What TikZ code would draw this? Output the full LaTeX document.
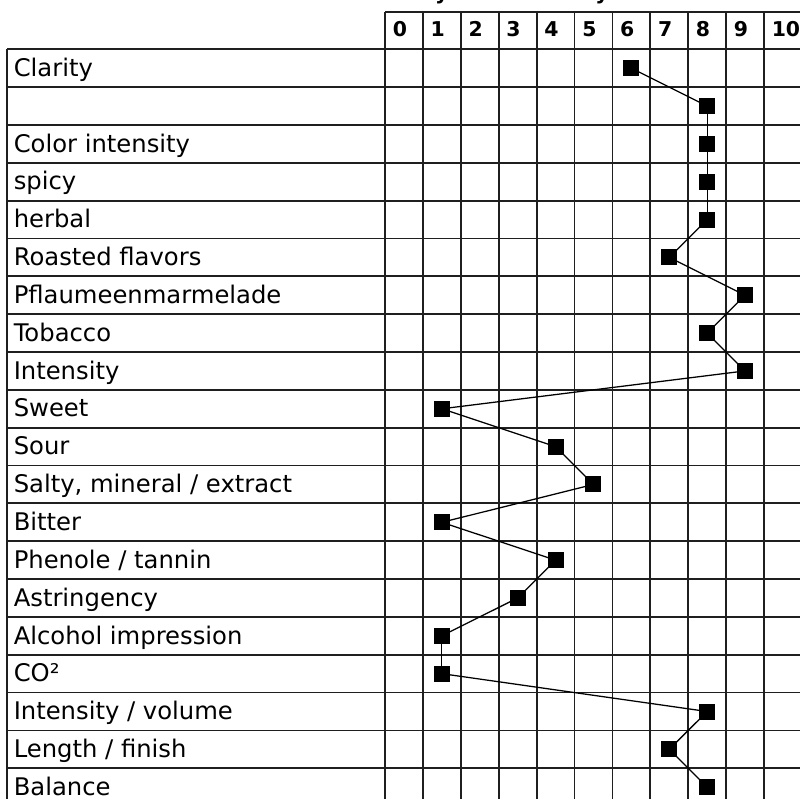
\documentclass[tikz,border=0pt]{standalone}
\usepackage{fontspec}
\setmainfont{DejaVu Sans}
\newcommand{\colx}[1]{385+37.9*(#1)}
\newcommand{\rowy}[1]{49.3+37.84*(#1)}
\newcommand{\tblrow}[3]{%
  \node[lbl] (lab#1) at (13.5,{\rowy{#1-0.5}+8.2}) {#2};
  \node[marker] (m#1) at ({\colx{#3+0.5}},{\rowy{#1-0.5}}) {};
}
\begin{document}
\begin{tikzpicture}[x=0.75pt,y=-0.75pt,
  gridline/.style={line width=1.35pt,draw=black!88},
  lbl/.style={anchor=base west,inner sep=0pt,font=\fontsize{18.2pt}{21pt}\selectfont},
  hdr/.style={anchor=base west,inner sep=0pt,font=\bfseries\fontsize{15.3pt}{18pt}\selectfont},
  titlestyle/.style={anchor=base west,inner sep=0pt,font=\bfseries\fontsize{15.5pt}{18pt}\selectfont},
  marker/.style={fill=black,draw=none,inner sep=0pt,minimum size=12pt},
  link/.style={line width=0.95pt,draw=black}]
\useasboundingbox (0,0) rectangle (800,799);
\fill[white] (0,0) rectangle (800,799);
\clip (0,0) rectangle (800,799);
% title (cut off at the top edge, as in the reference)
\node[titlestyle] (title) at (383,-0.6) {Analysis of sensory assessment};
% header row
\draw[gridline] (385,12.3) -- (815,12.3);
\foreach \k in {0,...,11} {
  \draw[gridline] ({\colx{\k}},12.3) -- ({\colx{\k}},815);
}
\foreach \k in {0,...,10} {
  \node[hdr] (h\k) at ({\colx{\k}+7.5},37) {\k};
}
% label column and row lines
\foreach \r in {0,...,20} {
  \draw[gridline] (7,{\rowy{\r}}) -- (815,{\rowy{\r}});
}
\draw[gridline] (7,{\rowy{0}}) -- (7,815);
% rows
\tblrow{1}{Clarity}{6}
\tblrow{2}{}{8}
\tblrow{3}{Color intensity}{8}
\tblrow{4}{spicy}{8}
\tblrow{5}{herbal}{8}
\tblrow{6}{Roasted flavors}{7}
\tblrow{7}{Pflaumeenmarmelade}{9}
\tblrow{8}{Tobacco}{8}
\tblrow{9}{Intensity}{9}
\tblrow{10}{Sweet}{1}
\tblrow{11}{Sour}{4}
\tblrow{12}{Salty, mineral / extract}{5}
\tblrow{13}{Bitter}{1}
\tblrow{14}{Phenole / tannin}{4}
\tblrow{15}{Astringency}{3}
\tblrow{16}{Alcohol impression}{1}
\tblrow{17}{CO²}{1}
\tblrow{18}{Intensity / volume}{8}
\tblrow{19}{Length / finish}{7}
\tblrow{20}{Balance}{8}
% connectors
\foreach \a/\b in {1/2,2/3,3/4,4/5,5/6,6/7,7/8,8/9,9/10,10/11,11/12,12/13,13/14,14/15,15/16,16/17,17/18,18/19,19/20} {
  \draw[link] (m\a.center) -- (m\b.center);
}
\end{tikzpicture}
\end{document}
